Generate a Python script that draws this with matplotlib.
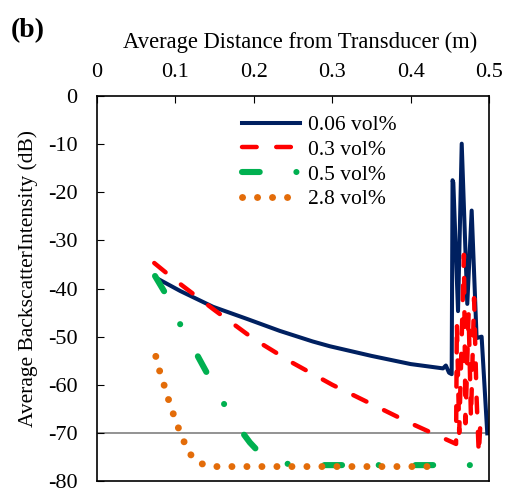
import matplotlib
matplotlib.use("Agg")
import matplotlib.pyplot as plt

plt.rcParams['font.family'] = ['Liberation Serif', 'DejaVu Serif']
plt.rcParams['axes.unicode_minus'] = False

# 0.06 vol%
blue_x = [0.080, 0.106, 0.148, 0.191, 0.233, 0.275, 0.297, 0.35, 0.40, 0.4413, 0.445, 0.449, 0.4524,
          0.4535, 0.4545, 0.4605, 0.4652, 0.4723, 0.4779, 0.4842, 0.4906, 0.4978]
blue_y = [-38.2, -40.5, -43.8, -46.3, -48.8, -51.0, -52.0, -54.0, -55.7, -56.6, -56.0, -57.5, -57.8,
          -17.5, -18.0, -44.7, -9.9, -43.2, -23.8, -50.3, -50.0, -70.1]
# 0.3 vol%
red_x = [0.073, 0.10, 0.15, 0.20, 0.25, 0.30, 0.35, 0.40, 0.458,
         0.459, 0.462, 0.468, 0.470, 0.474, 0.477, 0.481, 0.484, 0.487, 0.489]
red_y = [-34.7, -38.3, -44.5, -50.5, -55.5, -60.0, -64.0, -68.0, -72.3,
         -47.0, -70.0, -33.0, -68.0, -45.0, -67.0, -42.0, -62.0, -74.5, -68.0]
# 0.5 vol%
green_x = [0.074, 0.089, 0.106, 0.125, 0.139, 0.158, 0.178, 0.195, 0.21, 0.24, 0.27, 0.30, 0.35, 0.40, 0.45, 0.497]
green_y = [-37.4, -41.5, -47.4, -53.0, -57.2, -62.9, -68.3, -72.0, -74.6, -76.4, -76.7, -76.7, -76.7, -76.7, -76.7, -76.7]
# 2.8 vol%
orange_x = [0.075, 0.080, 0.086, 0.092, 0.098, 0.105, 0.109, 0.116, 0.129, 0.146, 0.17, 0.20, 0.25, 0.30, 0.35, 0.40, 0.437]
orange_y = [-54.1, -57.2, -60.3, -63.5, -66.4, -69.5, -71.0, -73.9, -76.2, -77.0, -77.0, -77.0, -77.0, -77.0, -77.0, -77.0, -77.0]

labels = ['0.06 vol%', '0.3 vol%', '0.5 vol%', '2.8 vol%']

fig = plt.figure(figsize=(5.09, 4.95), dpi=100)
ax = fig.add_axes([0.1906, 0.0283, 0.7701, 0.7777])

ax.axhline(-70, color='#808080', lw=1.2, zorder=1)

ax.plot(blue_x, blue_y, color='#002060', lw=2.9, solid_joinstyle='round', label=labels[0])
ax.plot(red_x, red_y, color='#ff0000', lw=3.2, ls=(0, (3.3, 4.4)), dash_capstyle='round', label=labels[1])
ax.plot(green_x, green_y, color='#00b050', lw=4.4, ls=(0, (2.9, 6.0, 0.01, 6.0)), dash_capstyle='round',
        label=labels[2])
ax.plot(orange_x, orange_y, color='#e36c09', lw=5.0, ls=(0, (0.01, 2.15)), dash_capstyle='round', label=labels[3])

ax.set_xlim(0, 0.5)
ax.set_ylim(-80, 0)
ax.set_xticks([0, 0.1, 0.2, 0.3, 0.4, 0.5])
ax.set_xticklabels(['0', '0.1', '0.2', '0.3', '0.4', '0.5'])
ax.set_yticks(range(-80, 1, 10))
ax.set_yticklabels([str(v) for v in range(-80, 1, 10)])
ax.xaxis.tick_top()
ax.tick_params(axis='x', direction='in', length=5, pad=10, labelsize=16, top=True, bottom=False)
ax.tick_params(axis='y', direction='in', length=5, pad=14, labelsize=16, right=False)
for s in ax.spines.values():
    s.set_linewidth(1.2)

ax.xaxis.set_label_position('top')
ax.set_xlabel('Average Distance from Transducer (m)', fontsize=16.3)
ax.xaxis.set_label_coords(0.518, 1.125)
ax.set_ylabel('Average BackscatterIntensity (dB)', fontsize=15.5)
ax.yaxis.set_label_coords(-0.15, 0.525)

ax.legend(loc='upper left', bbox_to_anchor=(242 / 509, 1 - 115 / 495), bbox_transform=fig.transFigure,
          frameon=False, fontsize=15.5, handlelength=2.7, handletextpad=0.35, labelspacing=0.22,
          borderpad=0, borderaxespad=0)

fig.text(11 / 509, 1 - 31 / 495, '(b)', fontsize=20, fontweight='bold', va='center')

fig.savefig('out.png', dpi=100)
